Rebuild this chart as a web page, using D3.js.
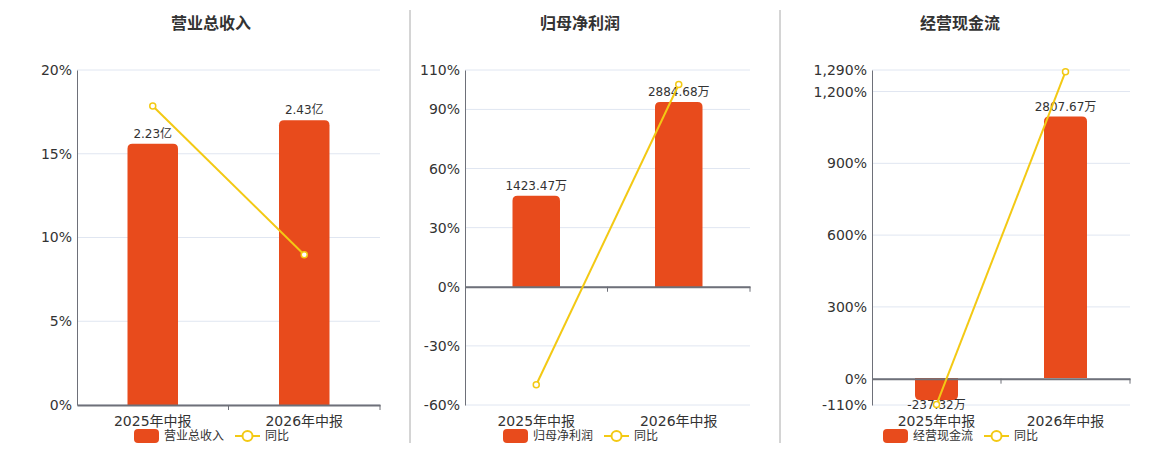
<!DOCTYPE html>
<html>
<head>
<meta charset="utf-8">
<script src="https://cdn.jsdelivr.net/npm/d3@7"></script>
<style>
  body { margin: 0; background: #fff; }
  svg { display: block; font-family: "DejaVu Sans", "Noto Sans CJK SC", sans-serif; }
</style>
</head>
<body>
<div id="chart-area"></div>
<script>
// Data
const categories = ['2025年中报', '2026年中报'];
const titles = ['营业总收入', '归母净利润', '经营现金流'];

const revenue = [2.23, 2.43];
const revenueYoy = [17.85, 8.97];
const profit = [1423.47, 2884.68];
const profitYoy = [-49.7, 102.65];
const cash = [-237.32, 2807.67];
const cashYoy = [-108, 1283];

const units = ['亿', '万', '万'];

// left axis ticks (percent)
const yoyTicks1 = [0, 5, 10, 15, 20];
const yoyTicks2 = [-60, -30, 0, 30, 60, 90, 110];
const yoyTicks3 = [-110, 0, 300, 600, 900, 1200, 1290];

// hidden right axis extents for the bars
const barExtent1 = [0, 2.86];
const barExtent2 = [-1840, 3384];
const barExtent3 = [-290, 3307];

const W = 1160, H = 450;
const barColor = '#e84b1c';
const lineColor = '#f3c914';

const svg = d3.select('#chart-area')
    .append('svg')
    .attr('width', W)
    .attr('height', H);

// Panel layout
const panels = [
    { left: 77, right: 380, center: 211, bars: revenue, yoy: revenueYoy, ticks: yoyTicks1, barExt: barExtent1 },
    { left: 465, right: 750, center: 580, bars: profit, yoy: profitYoy, ticks: yoyTicks2, barExt: barExtent2 },
    { left: 872, right: 1130, center: 960, bars: cash, yoy: cashYoy, ticks: yoyTicks3, barExt: barExtent3 }
];
const plotTop = 70, plotBottom = 405;

// Dividers
[410, 780].forEach((x) => {
    svg.append('line')
        .attr('x1', x).attr('x2', x)
        .attr('y1', 10).attr('y2', 443)
        .attr('stroke', '#aaa')
        .attr('stroke-width', 1);
});

// plain hyphen for negatives, like the original
const fmt = (d) => d3.format(',')(d).replace('\u2212', '-');

// Rounded bar path, rounded on the end away from zero
const barPath = (x, w, y0, y1, r) => {
    const h = Math.abs(y1 - y0);
    r = Math.min(r, h, w / 2);
    if (y1 < y0) {
        return `M${x},${y0}V${y1 + r}Q${x},${y1} ${x + r},${y1}H${x + w - r}Q${x + w},${y1} ${x + w},${y1 + r}V${y0}Z`;
    }
    return `M${x},${y0}V${y1 - r}Q${x},${y1} ${x + r},${y1}H${x + w - r}Q${x + w},${y1} ${x + w},${y1 - r}V${y0}Z`;
};

panels.forEach((p, i) => {
    const g = svg.append('g');

    // Title
    g.append('text')
        .attr('x', p.center)
        .attr('y', 29)
        .attr('text-anchor', 'middle')
        .attr('font-size', '16px')
        .attr('font-weight', 'bold')
        .attr('fill', '#333')
        .text(titles[i]);

    // Scales
    const x = d3.scaleBand()
        .domain(categories)
        .range([p.left, p.right]);

    const y = d3.scaleLinear()
        .domain([p.ticks[0], p.ticks[p.ticks.length - 1]])
        .range([plotBottom, plotTop]);

    const yBar = d3.scaleLinear()
        .domain(p.barExt)
        .range([plotBottom, plotTop]);

    // Gridlines
    g.append('g')
        .selectAll('line')
        .data(p.ticks)
        .enter()
        .append('line')
        .attr('x1', p.left).attr('x2', p.right)
        .attr('y1', (d) => y(d)).attr('y2', (d) => y(d))
        .attr('stroke', '#e0e6f1')
        .attr('stroke-width', 1);

    // Y axis
    const yAxisCall = d3.axisLeft(y)
        .tickValues(p.ticks)
        .tickSize(0)
        .tickPadding(5)
        .tickFormat((d) => fmt(d) + '%');
    const yAxis = g.append('g')
        .attr('transform', 'translate(' + p.left + ',0)')
        .call(yAxisCall);
    yAxis.select('.domain').attr('stroke', '#6e7079');
    yAxis.selectAll('text')
        .attr('font-size', '14px')
        .attr('font-family', '"DejaVu Sans", sans-serif')
        .attr('fill', '#333');

    // Bars
    const bw = x.bandwidth() / 3;
    g.append('g')
        .selectAll('path')
        .data(p.bars)
        .enter()
        .append('path')
        .attr('d', (d, j) => {
            const cx = x(categories[j]) + x.bandwidth() / 2;
            return barPath(cx - bw / 2, bw, yBar(0), yBar(d), 5);
        })
        .attr('fill', barColor);

    // Bar labels
    g.append('g')
        .selectAll('text')
        .data(p.bars)
        .enter()
        .append('text')
        .attr('x', (d, j) => x(categories[j]) + x.bandwidth() / 2)
        .attr('y', (d) => d >= 0 ? yBar(d) - 6 : yBar(d) + 9)
        .attr('text-anchor', 'middle')
        .attr('font-size', '12px')
        .attr('fill', '#333')
        .text((d) => d + units[i]);

    // X axis at zero
    const xAxisCall = d3.axisBottom(x)
        .tickSize(0)
        .tickPadding(0)
        .tickFormat('');
    const xAxis = g.append('g')
        .attr('transform', 'translate(0,' + y(0) + ')')
        .call(xAxisCall);
    xAxis.select('.domain')
        .attr('stroke', '#6e7079')
        .attr('stroke-width', 2);

    // band edge ticks
    g.append('g')
        .selectAll('line')
        .data(categories)
        .enter()
        .append('line')
        .attr('x1', (d) => x(d) + x.bandwidth())
        .attr('x2', (d) => x(d) + x.bandwidth())
        .attr('y1', y(0))
        .attr('y2', y(0) + 5)
        .attr('stroke', '#6e7079');

    // Category labels below plot
    g.append('g')
        .selectAll('text')
        .data(categories)
        .enter()
        .append('text')
        .attr('x', (d) => x(d) + x.bandwidth() / 2)
        .attr('y', 426)
        .attr('text-anchor', 'middle')
        .attr('font-size', '14px')
        .attr('fill', '#333')
        .text((d) => d);

    // YoY line
    const line = d3.line()
        .x((d, j) => x(categories[j]) + x.bandwidth() / 2)
        .y((d) => y(d));
    g.append('path')
        .datum(p.yoy)
        .attr('d', line)
        .attr('fill', 'none')
        .attr('stroke', lineColor)
        .attr('stroke-width', 2);
    g.append('g')
        .selectAll('circle')
        .data(p.yoy)
        .enter()
        .append('circle')
        .attr('cx', (d, j) => x(categories[j]) + x.bandwidth() / 2)
        .attr('cy', (d) => y(d))
        .attr('r', 3)
        .attr('fill', '#fff')
        .attr('stroke', lineColor)
        .attr('stroke-width', 1.5);

    // Legend
    const lg = g.append('g').attr('transform', 'translate(' + p.center + ',0)');
    lg.append('rect')
        .attr('x', -77).attr('y', 429)
        .attr('width', 25).attr('height', 14)
        .attr('rx', 4)
        .attr('fill', barColor);
    lg.append('text')
        .attr('x', -47).attr('y', 440)
        .attr('font-size', '12px')
        .attr('fill', '#333')
        .text(titles[i]);
    lg.append('line')
        .attr('x1', 24).attr('x2', 49)
        .attr('y1', 436).attr('y2', 436)
        .attr('stroke', lineColor)
        .attr('stroke-width', 2);
    lg.append('circle')
        .attr('cx', 36.5).attr('cy', 436)
        .attr('r', 5)
        .attr('fill', '#fff')
        .attr('stroke', lineColor)
        .attr('stroke-width', 2);
    lg.append('text')
        .attr('x', 54).attr('y', 440)
        .attr('font-size', '12px')
        .attr('fill', '#333')
        .text('同比');
});
</script>
</body>
</html>
